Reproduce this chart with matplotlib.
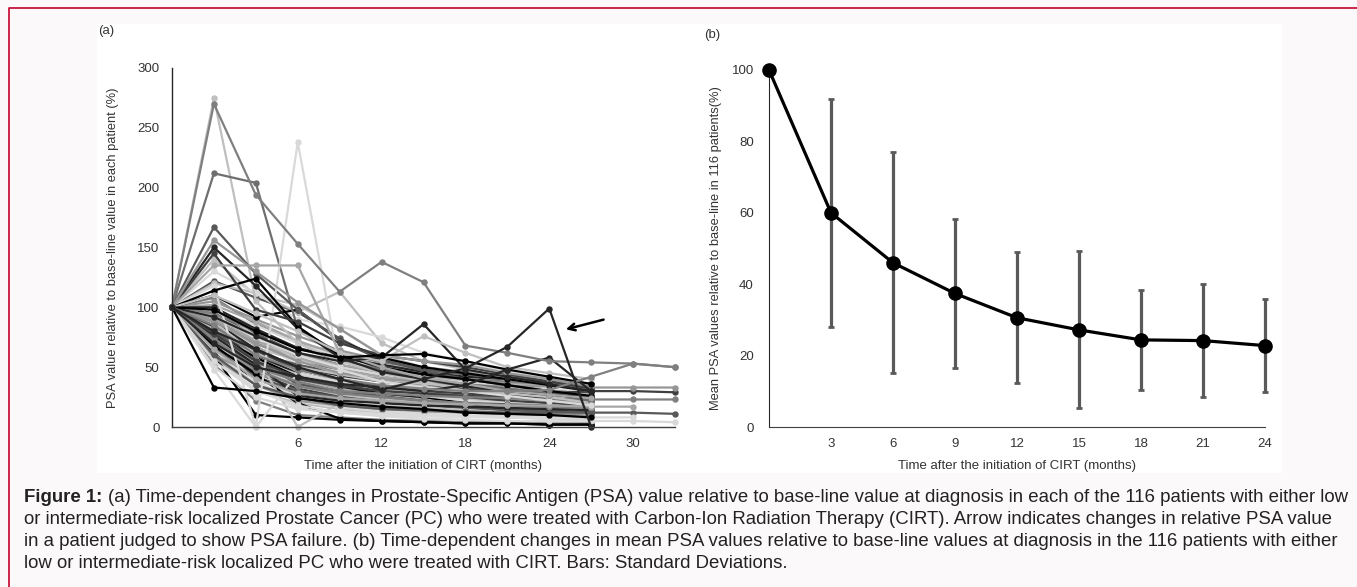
import numpy as np
import matplotlib
matplotlib.use("Agg")
import matplotlib.pyplot as plt
from matplotlib.patches import Rectangle
from matplotlib.lines import Line2D

plt.rcParams['font.family'] = ['Liberation Sans', 'DejaVu Sans']

# ---------------- data: panel (a) ----------------
# category positions 0..12 ; labelled ticks
a_tick_pos = [3, 5, 7, 9, 11]
a_tick_labels = ['6', '12', '18', '24', '30']
a_yticks = [0, 50, 100, 150, 200, 250, 300]

p01 = [100, 275, 105, 70, 55, 45, 38, 30, 28, 25, 20]
p02 = [100, 270, 194, 153, 113, 138, 121, 68, 62, 55, 54, 53, 50]
p03 = [100, 212, 204, 82, 62, 48, 40, 36, 32, 28, 22]
p04 = [100, 167, 128, 98, 72, 56, 47, 40, 35, 30, 25]
p05 = [100, 118, 0, 238, 48, 38, 33, 30, 26, 22, 18]
p06 = [100, 150, 118, 82, 58, 46, 40, 34, 30, 27, 24]
p07 = [100, 114, 124, 84, 60, 50, 44, 40, 35, 30, 26]
p08 = [100, 33, 30, 24, 20, 17, 15, 12, 11, 10, 8]
p09 = [100, 145, 98, 88, 70, 60, 55, 50, 44, 38, 32]
p10 = [100, 135, 135, 135, 62, 50, 41, 36, 30, 27, 24]
p11 = [100, 156, 130, 104, 82, 60, 55, 52, 45, 40, 34]
p12 = [100, 80, 65, 50, 40, 31, 40, 49, 67, 99, 0]
p13 = [100, 92, 76, 62, 55, 58, 86, 48, 42, 36, 30]
p14 = [100, 110, 95, 80, 62, 55, 76, 62, 50, 45, 40]
p15 = [100, 98, 80, 65, 58, 60, 61, 55, 48, 42, 36]
p16 = [100, 70, 50, 42, 36, 33, 30, 35, 48, 58, 30]
p17 = [100, 85, 60, 48, 40, 35, 32, 30, 30, 31, 42, 53, 50]
p18 = [100, 78, 55, 42, 35, 30, 28, 26, 25, 28, 30, 30, 29]
p19 = [100, 88, 70, 55, 45, 40, 38, 35, 34, 34, 33, 33, 33]
p20 = [100, 72, 50, 38, 30, 28, 26, 25, 24, 23, 23, 23, 23]
p21 = [100, 60, 35, 25, 18, 15, 14, 13, 12, 12, 12, 12, 11]
p22 = [100, 55, 30, 18, 12, 9, 7, 6, 5, 5, 5, 5, 4]
p23 = [100, 65, 40, 28, 24, 22, 20, 19, 18, 18, 17, 17]
p24 = [100, 50, 25, 15, 12, 10, 9, 8, 8, 8, 8, 8]
p25 = [100, 140, 110, 102, 82, 60, 50, 45, 40, 36, 30]
p26 = [100, 122, 108, 96, 74, 56, 48, 44, 40, 38, 34]
p27 = [100, 120, 112, 96, 113, 70, 55, 48, 40, 35, 30]
p28 = [100, 130, 112, 90, 84, 75, 62, 55, 46, 40, 35]
p29 = [100, 110, 92, 98, 72, 58, 50, 45, 40, 35, 30]
p30 = [100, 80, 60, 45, 38, 30, 28, 26, 24, 22, 20]
p31 = [100, 90, 70, 55, 48, 42, 38, 35, 32, 30, 28]
p32 = [100, 75, 55, 40, 32, 28, 24, 22, 20, 18, 16]
p33 = [100, 68, 45, 32, 26, 22, 20, 18, 16, 14, 12]
p34 = [100, 62, 40, 28, 22, 18, 15, 13, 12, 11, 10]
p35 = [100, 85, 62, 48, 42, 38, 33, 30, 27, 25, 22]
p36 = [100, 95, 78, 62, 52, 45, 40, 36, 33, 31, 28]
p37 = [100, 58, 30, 20, 15, 12, 10, 9, 8, 7, 6]
p38 = [100, 70, 48, 35, 28, 24, 21, 19, 17, 16, 15]
p39 = [100, 88, 65, 50, 43, 38, 34, 31, 29, 27, 25]
p40 = [100, 52, 22, 10, 8, 6, 5, 4, 4, 3, 3]
p41 = [100, 78, 58, 42, 34, 28, 25, 20, 14, 12, 10]
p42 = [100, 92, 72, 60, 52, 46, 42, 40, 37, 35, 32]
p43 = [100, 98, 85, 70, 58, 50, 45, 42, 40, 38, 36]
p44 = [100, 72, 52, 40, 34, 30, 27, 25, 22, 20, 18]
p45 = [100, 66, 42, 30, 25, 20, 18, 16, 14, 13, 12]
p46 = [100, 82, 62, 50, 44, 40, 36, 34, 31, 29, 27]
p47 = [100, 60, 10, 8, 6, 5, 4, 3, 3, 2, 2]
p48 = [100, 105, 90, 76, 64, 56, 50, 46, 42, 38, 35]
p49 = [100, 76, 52, 26, 22, 20, 18, 17, 16, 15, 14]
p50 = [100, 95, 80, 66, 56, 48, 44, 40, 38, 36, 35]
p51 = [100, 48, 0, 45, 38, 30, 26, 22, 20, 18, 16]
p52 = [100, 102, 88, 72, 60, 52, 48, 44, 40, 36, 34]
p53 = [100, 84, 64, 48, 40, 34, 30, 28, 26, 24, 22]
p54 = [100, 68, 44, 20, 7, 5, 4, 3, 3, 2, 2]
p55 = [100, 88, 60, 0, 20, 18, 16, 14, 12, 10, 9]
p56 = [100, 80, 55, 36, 30, 26, 22, 20, 19, 18, 16]
p57 = [100, 58, 35, 22, 18, 15, 13, 12, 11, 10, 9]
p58 = [100, 100, 82, 66, 58, 52, 46, 42, 40, 38, 36]
p59 = [100, 74, 48, 34, 28, 25, 22, 20, 18, 17, 16]
p60 = [100, 92, 75, 60, 50, 44, 40, 37, 34, 32, 30]
p61 = [100, 86, 58, 40, 33, 29, 26, 23, 21, 20, 19]
p62 = [100, 96, 72, 52, 46, 40, 37, 34, 31, 29, 26]
p63 = [100, 70, 46, 30, 24, 20, 17, 15, 14, 13, 12]
p64 = [100, 82, 66, 56, 50, 44, 41, 38, 36, 34, 33]
p65 = [100, 64, 36, 24, 19, 16, 14, 12, 11, 10, 9]
p66 = [100, 90, 68, 46, 36, 32, 28, 26, 24, 22, 20]
p67 = [100, 76, 56, 44, 38, 34, 31, 29, 27, 26, 24]
p68 = [100, 108, 86, 70, 62, 54, 49, 44, 41, 38, 36]
p69 = [100, 56, 32, 16, 13, 11, 10, 9, 8, 7, 7]
p70 = [100, 84, 50, 34, 27, 23, 20, 18, 17, 16, 14]
p71 = [100, 94, 70, 58, 48, 42, 38, 35, 33, 30, 27]
p72 = [100, 66, 40, 26, 22, 19, 17, 15, 13, 12, 11]
p73 = [100, 80, 62, 52, 45, 39, 35, 32, 30, 28, 26]
p74 = [100, 60, 44, 36, 30, 25, 22, 20, 18, 17, 15]
p75 = [100, 100, 76, 56, 44, 38, 34, 30, 28, 26, 24]
p76 = [100, 72, 38, 22, 16, 13, 11, 10, 9, 9, 8]

patient_series = [p30, p61, p31, p62, p32, p63, p33, p64, p34, p65, p35, p66,
                  p36, p67, p37, p68, p38, p69, p39, p70, p40, p71, p41, p72,
                  p42, p73, p43, p74, p44, p75, p45, p76, p46, p47, p48, p49,
                  p50, p51, p52, p53, p54, p55, p56, p57, p58, p59, p60, p18,
                  p19, p20, p21, p22, p23, p24, p25, p26, p27, p28, p29, p01,
                  p03, p04, p05, p06, p07, p08, p09, p10, p11, p13, p14, p15,
                  p16, p17, p02, p12]
patient_colors = ['#262626', '#bfbfbf', '#7f7f7f', '#d9d9d9', '#a6a6a6', '#969696',
                  '#404040', '#bfbfbf', '#000000', '#d9d9d9', '#d9d9d9', '#a6a6a6',
                  '#595959', '#c8c8c8', '#bfbfbf', '#7f7f7f', '#969696', '#d9d9d9',
                  '#262626', '#bfbfbf', '#7f7f7f', '#a6a6a6', '#000000', '#d9d9d9',
                  '#a6a6a6', '#595959', '#d9d9d9', '#969696', '#404040', '#bfbfbf',
                  '#595959', '#d9d9d9', '#bfbfbf', '#000000', '#969696', '#262626',
                  '#7f7f7f', '#d9d9d9', '#a6a6a6', '#404040', '#000000', '#bfbfbf',
                  '#595959', '#969696', '#262626', '#7f7f7f', '#d9d9d9', '#404040',
                  '#969696', '#7f7f7f', '#595959', '#d9d9d9', '#a6a6a6', '#d9d9d9',
                  '#bfbfbf', '#595959', '#bfbfbf', '#d9d9d9', '#000000', '#bfbfbf',
                  '#6e6e6e', '#595959', '#d9d9d9', '#262626', '#000000', '#000000',
                  '#404040', '#a6a6a6', '#969696', '#262626', '#bfbfbf', '#000000',
                  '#262626', '#808080', '#7f7f7f', '#262626']

# ---------------- data: panel (b) ----------------
b_months = [0, 3, 6, 9, 12, 15, 18, 21, 24]
b_mean = [100, 60.0, 46.0, 37.4, 30.6, 27.2, 24.4, 24.2, 22.8]
b_sd = [0, 32.0, 31.0, 21.0, 18.3, 22.0, 14.1, 15.8, 13.0]
b_xticks = [3, 6, 9, 12, 15, 18, 21, 24]
b_yticks = [0, 20, 40, 60, 80, 100]

caption_bold = "Figure 1:"
caption_lines = [
    "(a) Time-dependent changes in Prostate-Specific Antigen (PSA) value relative to base-line value at diagnosis in each of the 116 patients with either low",
    "or intermediate-risk localized Prostate Cancer (PC) who were treated with Carbon-Ion Radiation Therapy (CIRT). Arrow indicates changes in relative PSA value",
    "in a patient judged to show PSA failure. (b) Time-dependent changes in mean PSA values relative to base-line values at diagnosis in the 116 patients with either",
    "low or intermediate-risk localized PC who were treated with CIRT. Bars: Standard Deviations.",
]

# ---------------- figure ----------------
W, H = 1357, 587
fig = plt.figure(figsize=(W / 100, H / 100), dpi=100, facecolor='#fcf9fa')


def fx(x):
    return x / W


def fy(y):
    return 1 - y / H


fig.add_artist(Rectangle((fx(97), fy(473)), (1282 - 97) / W, (473 - 24) / H,
                         transform=fig.transFigure, facecolor='white',
                         edgecolor='none', zorder=0))
fig.add_artist(Line2D([fx(8.5), fx(8.5), 1.0], [0.0, fy(7.5), fy(7.5)],
                      transform=fig.transFigure, color='#c8143e', lw=1.3))

txt_col = '#333333'
tick_fs = 9.5

# ---- panel (a)
ax1 = fig.add_axes([fx(172), fy(427), (675 - 172) / W, (427 - 68) / H])
ax1.patch.set_visible(False)
for vals, col in zip(patient_series, patient_colors):
    v = np.array(vals, dtype=float)
    ax1.plot(np.arange(len(v)), v, color=col, lw=1.6, marker='o', ms=3.6,
             clip_on=False, solid_joinstyle='round')
ax1.set_xlim(0, 12)
ax1.set_ylim(0, 300)
ax1.set_xticks(a_tick_pos)
ax1.set_xticklabels(a_tick_labels)
ax1.set_yticks(a_yticks)
for s in ['top', 'right']:
    ax1.spines[s].set_visible(False)
ax1.spines['left'].set_color('#262626')
ax1.spines['bottom'].set_color('#404040')
ax1.spines['left'].set_linewidth(1.0)
ax1.spines['bottom'].set_linewidth(1.0)
ax1.tick_params(axis='both', length=0, labelsize=tick_fs, colors=txt_col)
ax1.tick_params(axis='y', pad=9)
ax1.tick_params(axis='x', pad=8)
ax1.set_xlabel("Time after the initiation of CIRT (months)", fontsize=tick_fs, color=txt_col)
ax1.xaxis.set_label_coords(0.5, (427 - 466) / (427 - 68))
ax1.xaxis.label.set_va('center')
ax1.set_ylabel("PSA value relative to base-line value in each patient (%)", fontsize=9.3, color=txt_col)
ax1.yaxis.set_label_coords((113 - 172) / (675 - 172), 0.5)
ax1.yaxis.label.set_va('center')
ax1.annotate('', xy=(9.33, 81), xytext=(10.36, 90.3),
             arrowprops=dict(arrowstyle='->', lw=1.8, color='black',
                             mutation_scale=12))
fig.text(fx(98), fy(31), '(a)', fontsize=9.5, color=txt_col, ha='left', va='center')

# ---- panel (b)
ax2 = fig.add_axes([fx(769), fy(427), (1265 - 769) / W, (427 - 70) / H])
ax2.patch.set_visible(False)
ax2.errorbar(b_months[1:], b_mean[1:], yerr=b_sd[1:], fmt='none',
             ecolor='#595959', elinewidth=2.3, capsize=2.5, capthick=2.0,
             clip_on=False)
ax2.plot(b_months, b_mean, color='black', lw=2.3, marker='o', ms=9.5,
         clip_on=False, zorder=5)
ax2.set_xlim(0, 24)
ax2.set_ylim(0, 100)
ax2.set_xticks(b_xticks)
ax2.set_yticks(b_yticks)
for s in ['top', 'right']:
    ax2.spines[s].set_visible(False)
ax2.spines['left'].set_color('#262626')
ax2.spines['bottom'].set_color('#404040')
ax2.tick_params(axis='both', length=0, labelsize=tick_fs, colors=txt_col)
ax2.tick_params(axis='y', pad=11)
ax2.tick_params(axis='x', pad=8)
ax2.set_xlabel("Time after the initiation of CIRT (months)", fontsize=tick_fs, color=txt_col)
ax2.xaxis.set_label_coords(0.5, (427 - 466) / (427 - 70))
ax2.xaxis.label.set_va('center')
ax2.set_ylabel("Mean PSA values relative to base-line in 116 patients(%)", fontsize=9.3, color=txt_col)
ax2.yaxis.set_label_coords((716 - 769) / (1265 - 769), 0.5)
ax2.yaxis.label.set_va('center')
fig.text(fx(704), fy(35), '(b)', fontsize=9.5, color=txt_col, ha='left', va='center')

# ---- caption
renderer = fig.canvas.get_renderer()
cap_y = [497, 519, 541, 563]
cap_x0 = 24
fs0 = 11.0
tb = fig.text(fx(cap_x0), fy(cap_y[0]), caption_bold, fontsize=fs0,
              fontweight='bold', color='#222222', ha='left', va='center')
rest = []
for i, line in enumerate(caption_lines):
    rest.append(fig.text(fx(cap_x0), fy(cap_y[i]), line, fontsize=fs0,
                         color='#222222', ha='left', va='center'))


def wpx(t):
    return t.get_window_extent(renderer).width


sp = fig.text(0, 0, 'a a', fontsize=fs0)
sp2 = fig.text(0, 0, 'aa', fontsize=fs0)
space_w = wpx(sp) - wpx(sp2)
total = wpx(tb) + space_w + wpx(rest[0])
fs = fs0 * (1350 - cap_x0) / total
sp.remove()
sp2.remove()
tb.set_fontsize(fs)
for t in rest:
    t.set_fontsize(fs)
space_w *= fs / fs0
rest[0].set_x(fx(cap_x0 + wpx(tb) + space_w))

fig.savefig('out.png', dpi=100, facecolor=fig.get_facecolor())
